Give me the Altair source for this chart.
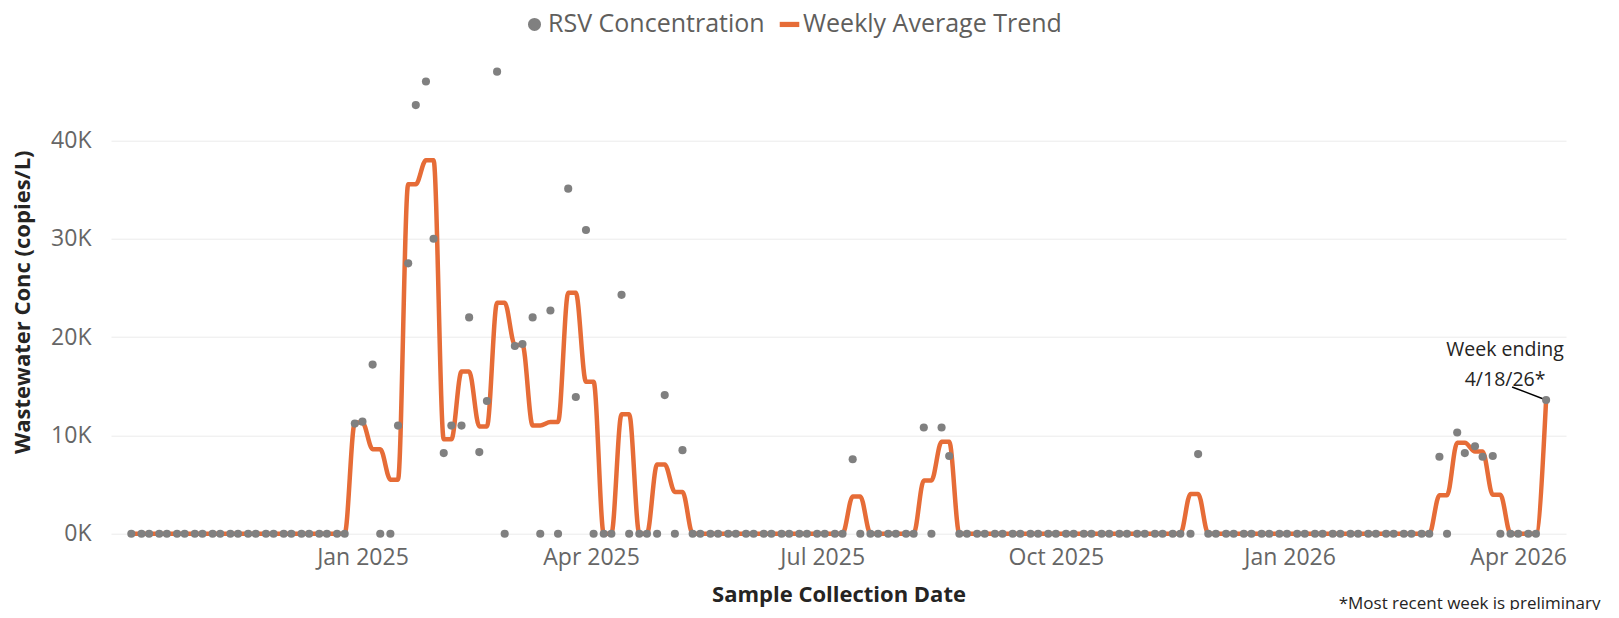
import altair as alt
import pandas as pd

# ---- data -------------------------------------------------------------------
# Samples are taken on the Sunday and the Wednesday of each week (weeks run Sun-Sat).
first_week_sunday = "2024-09-29"
sample_day_offsets = [0, 3]  # Sunday, Wednesday

# RSV concentration (copies/L) of the Sunday sample of each week (None = no sample)
sunday_conc = [
    None, 0, 0, 0, 0, 0, 0, 0, 0, 0,            # weeks 0-9
    0, 0, 0, 11200, 17200, 0, 27500, 46000, 8200, 11000,   # 10-19
    8300, 47000, 19100, 22000, 22700, 35100, 30900, 0, 24300, 0,  # 20-29
    0, 0, 0, 0, 0, 0, 0, 0, 0, 0,               # 30-39
    0, 7570, 0, 0, 0, 10800, 10800, 0, 0, 0,    # 40-49
    0, 0, 0, 0, 0, 0, 0, 0, 0, 0,               # 50-59
    0, 0, 0, 0, 0, 0, 0, 0, 0, 0,               # 60-69
    0, 0, 0, 0, 7830, 10300, 8900, 7900, 0, 0,  # 70-79
    13600,                                      # 80
]
# RSV concentration (copies/L) of the Wednesday sample of each week
wednesday_conc = [
    0, 0, 0, 0, 0, 0, 0, 0, 0, 0,
    0, 0, 0, 11400, 0, 11000, 43600, 30000, 11000, 22000,
    13500, 0, 19300, 0, 0, 13900, 0, 0, 0, 0,
    14100, 8500, 0, 0, 0, 0, 0, 0, 0, 0,
    0, 0, 0, 0, 0, 0, 7900, 0, 0, 0,
    0, 0, 0, 0, 0, 0, 0, 0, 0, 0,
    8100, 0, 0, 0, 0, 0, 0, 0, 0, 0,
    0, 0, 0, 0, 0, 8200, 7830, 0, 0, 0,
    None,
]

series_names = ["RSV Concentration", "Weekly Average Trend"]
series_colors = ["#808080", "#E66C37"]
y_tick_values = [0, 10000, 20000, 30000, 40000]
x_tick_months = [(2025, 1), (2025, 4), (2025, 7), (2025, 10), (2026, 1), (2026, 4)]
annotation_text = "Week ending\n4/18/26*"
footnote_text = "*Most recent week is preliminary"

# ---- table --------------------------------------------------------------------
rows = []
start = pd.Timestamp(first_week_sunday)
for k in range(len(sunday_conc)):
    week_start = start + pd.Timedelta(days=7 * k)
    for off, vals in zip(sample_day_offsets, (sunday_conc, wednesday_conc)):
        v = vals[k]
        if v is not None:
            rows.append({
                "date": (week_start + pd.Timedelta(days=off)).strftime("%Y-%m-%d"),
                "week": k,
                "conc": v,
            })
df = pd.DataFrame(rows)
last_df = df.iloc[[-1]].assign(label=annotation_text)

FONT = "Open Sans"

x_enc = alt.X(
    "date:T",
    scale=alt.Scale(
        type="utc",
        domain=[
            alt.DateTime(year=2024, month=9, date=24, utc=True),
            alt.DateTime(year=2026, month=4, date=19, hours=20, utc=True),
        ],
    ),
    axis=alt.Axis(
        values=[alt.DateTime(year=y, month=m, date=1, utc=True) for y, m in x_tick_months],
        format="%b %Y",
        labelAngle=0,
        grid=False,
        domain=False,
        ticks=False,
        labelFlush=False,
        labelOverlap=False,
        labelFont=FONT,
        labelFontSize=23,
        labelColor="#666666",
        labelPadding=13,
        title="Sample Collection Date",
        titleFont=FONT,
        titleFontSize=22,
        titleFontWeight="bold",
        titleColor="#252423",
        titlePadding=15,
    ),
)

y_scale = alt.Scale(domain=[0, 47200], nice=False, zero=True)
y_axis = alt.Axis(
    values=y_tick_values,
    labelExpr="datum.value / 1000 + 'K'",
    grid=True,
    gridColor="#EBEBEB",
    gridWidth=1,
    domain=False,
    ticks=False,
    labelFont=FONT,
    labelFontSize=23,
    labelColor="#666666",
    labelPadding=20,
    title="Wastewater Conc (copies/L)",
    titleFont=FONT,
    titleFontSize=22,
    titleFontWeight="bold",
    titleColor="#252423",
    titlePadding=16,
    titleLimit=600,
)

color_scale = alt.Scale(domain=series_names, range=series_colors)
shape_scale = alt.Scale(domain=series_names, range=["circle", "M-1.5,-0.4H1.5V0.4H-1.5Z"])

base = alt.Chart(df)

trend = (
    base.transform_joinaggregate(weekly_avg="mean(conc)", groupby=["week"])
    .transform_calculate(series="'Weekly Average Trend'")
    .mark_line(strokeWidth=4.5, interpolate="monotone")
    .encode(
        x=x_enc,
        y=alt.Y("weekly_avg:Q", scale=y_scale, axis=y_axis),
        color=alt.Color("series:N", scale=color_scale, legend=alt.Legend(title=None)),
    )
)

leader = (
    alt.Chart(last_df)
    .mark_rule(color="#000000", strokeWidth=1.5, x2Offset=-34, y2Offset=-13)
    .encode(x=x_enc, y=alt.Y("conc:Q", scale=y_scale, axis=y_axis), x2="date:T", y2="conc:Q")
)

points = (
    base.transform_calculate(series="'RSV Concentration'")
    .mark_point(filled=True, size=66, opacity=1, strokeWidth=0)
    .encode(
        x=x_enc,
        y=alt.Y("conc:Q", scale=y_scale, axis=y_axis),
        color=alt.Color("series:N", scale=color_scale, legend=alt.Legend(title=None)),
        shape=alt.Shape("series:N", scale=shape_scale, legend=alt.Legend(title=None)),
    )
)

annot = (
    alt.Chart(last_df)
    .mark_text(
        align="center",
        baseline="alphabetic",
        dx=-41,
        dy=-44,
        font=FONT,
        fontSize=19.5,
        lineHeight=30,
        lineBreak="\n",
        color="#252423",
    )
    .encode(x=x_enc, y=alt.Y("conc:Q", scale=y_scale, axis=y_axis), text="label:N")
)

chart = (
    alt.layer(trend, leader, points, annot)
    .properties(
        width=1455,
        height=464,
        autosize=alt.AutoSizeParams(type="none"),
        padding={"left": 103, "top": 61.7, "right": 45, "bottom": 76.3},
        title=alt.TitleParams(
            text=footnote_text,
            orient="bottom",
            anchor="end",
            font=FONT,
            fontSize=17,
            fontWeight="normal",
            color="#252423",
            dx=34,
            dy=-10,
            offset=0,
        ),
    )
    .configure_view(stroke=None)
    .configure_legend(
        orient="none",
        direction="horizontal",
        legendX=411,
        legendY=-58,
        labelFont=FONT,
        labelFontSize=25,
        labelColor="#605E5C",
        labelLimit=400,
        symbolSize=170,
        symbolStrokeWidth=0,
        symbolOpacity=1,
        labelOffset=1,
        columnPadding=12,
        padding=0,
    )
)

chart.save("out.html", embed_options={"renderer": "svg", "actions": False})
